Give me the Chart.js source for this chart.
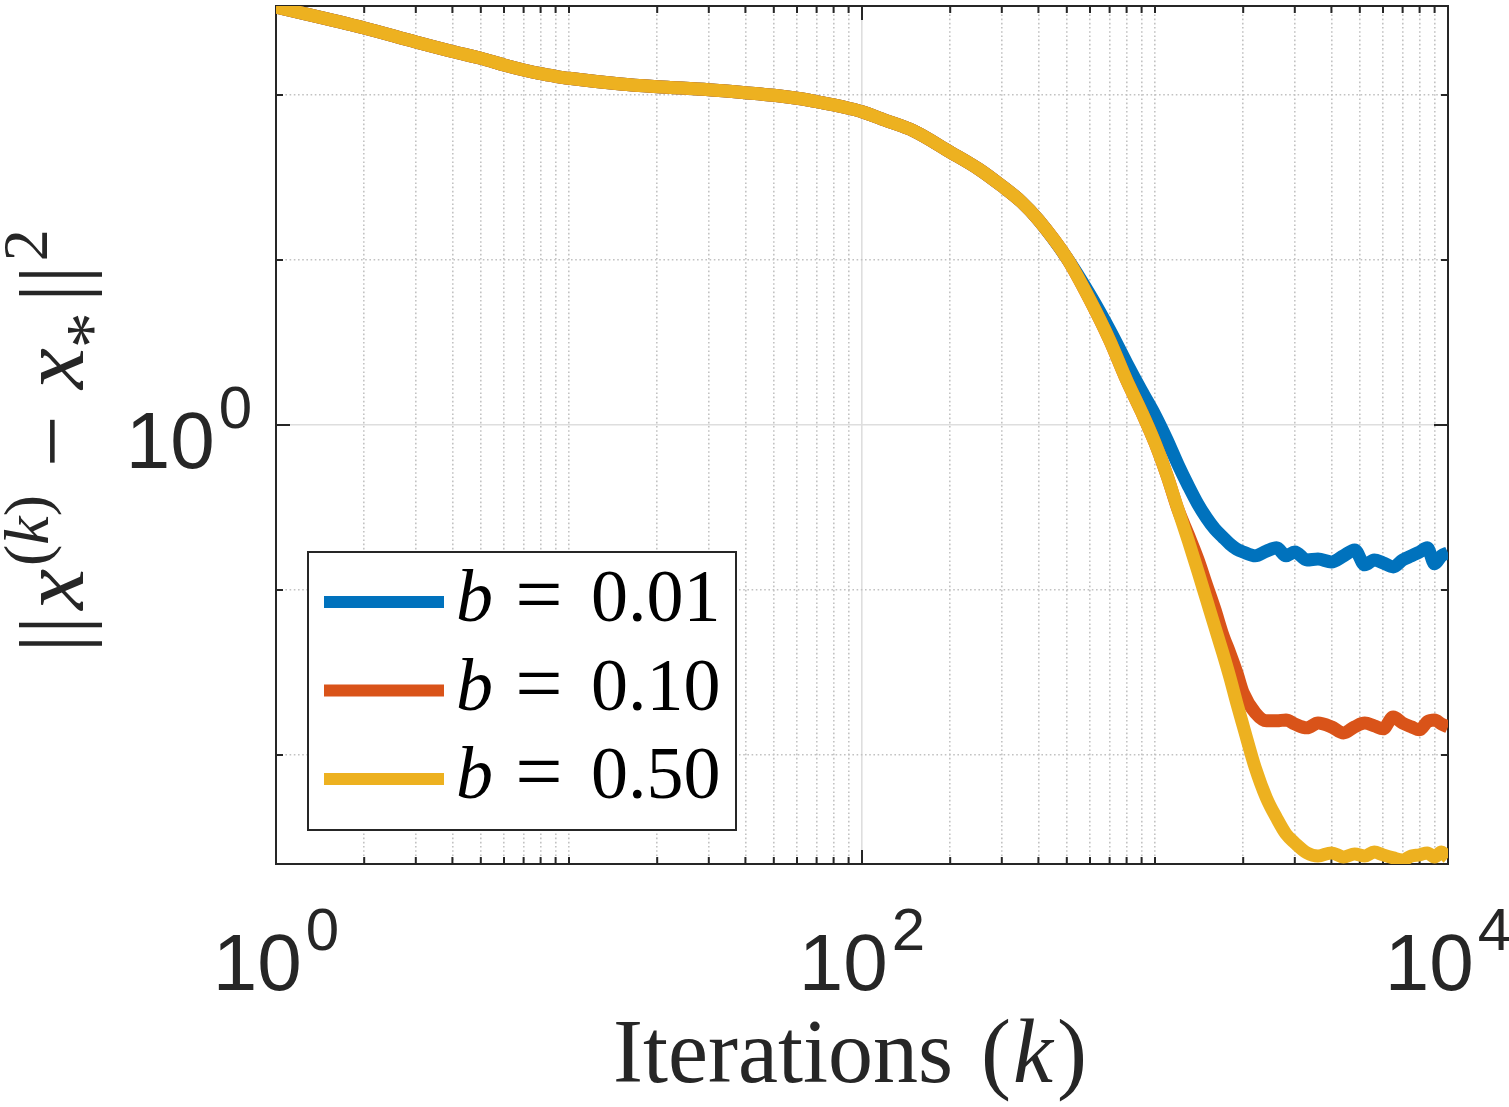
<!DOCTYPE html>
<html>
<head>
<meta charset="utf-8">
<script src="https://cdn.jsdelivr.net/npm/chart.js@4.4.1/dist/chart.umd.min.js"></script>
<style>
  html, body { margin: 0; padding: 0; background: #fff; }
</style>
</head>
<body>
<canvas id="myChart" width="1509" height="1107"></canvas>
<script>
// iterations k (x) and ||x^(k) - x*||^2 for each b
const iterations = [1, 2, 3, 4, 5, 6, 7, 8, 9, 10, 15, 20, 30, 40, 50, 60, 70, 80, 90,
  100, 120, 150, 200, 250, 300, 350, 400, 500, 600, 700, 800, 900,
  1000, 1100, 1200, 1300, 1400, 1500, 1600, 1700, 1800, 1900, 2000,
  2200, 2400, 2600, 2800, 3000, 3300, 3600, 4000, 4400, 4800, 5200, 5600, 6000,
  6500, 7000, 7500, 8000, 8500, 9000, 9500, 10000];

const errB001 = [341.5, 254.7, 209.5, 183.5, 166.9, 152.0, 141.8, 134.6, 129.8, 126.2, 116.6, 112.3, 107.7, 103.3, 99.6, 95.5, 91.1, 87.0, 83.1,
  79.2, 70.3, 60.6, 45.1, 35.6, 28.1, 22.5, 17.5, 10.28, 6.14, 3.77, 2.376, 1.608,
  1.150, 0.811, 0.572, 0.427, 0.332, 0.273, 0.234, 0.210, 0.190, 0.177, 0.170,
  0.161, 0.172, 0.180, 0.161, 0.170, 0.152, 0.154, 0.148, 0.161, 0.175, 0.142, 0.152, 0.146,
  0.138, 0.152, 0.161, 0.170, 0.180, 0.144, 0.161, 0.168];

const errB010 = [341.5, 254.7, 209.5, 183.5, 166.9, 152.0, 141.8, 134.6, 129.8, 126.2, 116.6, 112.3, 107.7, 103.3, 99.6, 95.5, 91.1, 87.0, 83.1,
  79.2, 70.3, 60.6, 45.1, 35.6, 28.1, 22.5, 17.5, 10.28, 5.72, 3.27, 1.87, 1.20,
  0.778, 0.491, 0.305, 0.2154, 0.1541, 0.1072, 0.0767, 0.0541, 0.0415, 0.0318, 0.0238,
  0.0180, 0.0161, 0.0161, 0.0163, 0.0154, 0.0146, 0.0156, 0.0148, 0.0136, 0.0148, 0.0156, 0.0150, 0.0144,
  0.0170, 0.0156, 0.0148, 0.0142, 0.0159, 0.0163, 0.0154, 0.0148];

const errB050 = [341.5, 254.7, 209.5, 183.5, 166.9, 152.0, 141.8, 134.6, 129.8, 126.2, 116.6, 112.3, 107.7, 103.3, 99.6, 95.5, 91.1, 87.0, 83.1,
  79.2, 70.3, 60.6, 45.1, 35.6, 28.1, 22.5, 17.5, 10.28, 5.72, 3.27, 1.87, 1.20,
  0.778, 0.491, 0.305, 0.198, 0.130, 0.0870, 0.0597, 0.0421, 0.0297, 0.0207, 0.0150,
  0.00834, 0.00549, 0.00415, 0.00332, 0.00293, 0.00255, 0.00244, 0.00255, 0.00241, 0.00251, 0.00244, 0.00258, 0.00248,
  0.00238, 0.00231, 0.00244, 0.00248, 0.00255, 0.00241, 0.00258, 0.00238];

const bValues = ['0.01', '0.10', '0.50'];
const lineColors = ['#0072BD', '#D95319', '#EDB120'];

// axis ticks (log decades and minor steps)
const xTicks = [1, 2, 3, 4, 5, 6, 7, 8, 9, 10, 20, 30, 40, 50, 60, 70, 80, 90,
  100, 200, 300, 400, 500, 600, 700, 800, 900,
  1000, 2000, 3000, 4000, 5000, 6000, 7000, 8000, 9000, 10000];
const xMajorTicks = [1, 100, 10000];
const xTickExponents = ['0', '2', '4'];
const yTicks = [0.01, 0.1, 1, 10, 100];
const yMajorTicks = [1];
const yTickExponents = ['0'];

const axisColor = '#262626';
const sans = '"Liberation Sans", Arial, Helvetica, sans-serif';
const serif = '"Liberation Serif", "Times New Roman", serif';

// draws a run of text pieces, each with its own font and vertical shift
function drawPieces(ctx, pieces, x, y, align) {
  let total = 0;
  pieces.forEach(p => {
    ctx.font = p.font;
    p.w = ctx.measureText(p.t).width;
    total += p.w + (p.gap || 0);
  });
  let cx = x;
  if (align === 'center') cx = x - total / 2;
  if (align === 'right') cx = x - total;
  ctx.textAlign = 'left';
  ctx.textBaseline = 'alphabetic';
  pieces.forEach(p => {
    ctx.font = p.font;
    cx += (p.gap || 0);
    ctx.fillText(p.t, cx, y - (p.rise || 0));
    cx += p.w;
  });
}

const matlabAxes = {
  id: 'matlabAxes',
  beforeDatasetsDraw(chart) {
    const {ctx, chartArea: a, scales} = chart;
    ctx.save();
    ctx.strokeStyle = axisColor;
    ctx.lineWidth = 2;
    ctx.strokeRect(a.left, a.top, a.right - a.left, a.bottom - a.top);
    ctx.beginPath();
    xTicks.forEach(v => {
      const px = scales.x.getPixelForValue(v);
      const len = xMajorTicks.includes(v) ? 14 : 7;
      ctx.moveTo(px, a.bottom); ctx.lineTo(px, a.bottom - len);
      ctx.moveTo(px, a.top); ctx.lineTo(px, a.top + len);
    });
    yTicks.forEach(v => {
      const py = scales.y.getPixelForValue(v);
      const len = yMajorTicks.includes(v) ? 14 : 7;
      ctx.moveTo(a.left, py); ctx.lineTo(a.left + len, py);
      ctx.moveTo(a.right, py); ctx.lineTo(a.right - len, py);
    });
    ctx.stroke();
    ctx.restore();
  },
  afterDraw(chart) {
    const {ctx, chartArea: a, scales} = chart;
    ctx.save();
    ctx.fillStyle = axisColor;

    // tick labels 10^n
    xMajorTicks.forEach((v, i) => {
      const px = scales.x.getPixelForValue(v);
      drawPieces(ctx, [
        {t: '10', font: '80px ' + sans},
        {t: xTickExponents[i], font: '60px ' + sans, rise: 40, gap: 4}
      ], px, a.bottom + 126, 'center');
    });
    yMajorTicks.forEach((v, i) => {
      const py = scales.y.getPixelForValue(v);
      drawPieces(ctx, [
        {t: '10', font: '80px ' + sans},
        {t: yTickExponents[i], font: '60px ' + sans, rise: 40, gap: 4}
      ], a.left - 24, py + 43, 'right');
    });

    // x title
    drawPieces(ctx, [
      {t: 'Iterations', font: '90px ' + serif},
      {t: '(', font: '90px ' + serif, gap: 28},
      {t: 'k', font: 'italic 90px ' + serif, gap: 2},
      {t: ')', font: '90px ' + serif, gap: 4}
    ], (a.left + a.right) / 2 - 12, 1082, 'center');

    // y title, rotated
    ctx.save();
    ctx.translate(83, (a.top + a.bottom) / 2 + 6);
    ctx.rotate(-Math.PI / 2);
    drawPieces(ctx, [
      {t: '||', font: '92px ' + serif},
      {t: 'x', font: 'italic 92px ' + serif, gap: 6},
      {t: '(', font: '64px ' + serif, rise: 35, gap: 3},
      {t: 'k', font: 'italic 64px ' + serif, rise: 35},
      {t: ')', font: '64px ' + serif, rise: 35},
      {t: '\u2212', font: '92px ' + serif, gap: 28},
      {t: 'x', font: 'italic 92px ' + serif, gap: 26},
      {t: '*', font: '72px ' + serif, rise: -32},
      {t: '||', font: '92px ' + serif, gap: 10},
      {t: '2', font: '64px ' + serif, rise: 36, gap: 4}
    ], 0, 0, 'center');
    ctx.restore();

    // legend box
    const lx = 308, ly = 552, lw = 428, lh = 278;
    ctx.fillStyle = '#fff';
    ctx.fillRect(lx, ly, lw, lh);
    ctx.strokeStyle = axisColor;
    ctx.lineWidth = 2;
    ctx.strokeRect(lx, ly, lw, lh);
    chart.data.datasets.forEach((ds, i) => {
      const ry = 602 + i * 88.5;
      ctx.strokeStyle = ds.borderColor;
      ctx.lineWidth = 12;
      ctx.lineCap = 'butt';
      ctx.beginPath();
      ctx.moveTo(324, ry);
      ctx.lineTo(444, ry);
      ctx.stroke();
      ctx.fillStyle = '#000';
      drawPieces(ctx, [{t: 'b', font: 'italic 74px ' + serif}], 456, ry + 19, 'left');
      drawPieces(ctx, [{t: '=', font: '84px ' + serif}], 539, ry + 21, 'center');
      drawPieces(ctx, [{t: bValues[i], font: '74px ' + serif}], 591, ry + 19, 'left');
    });
    ctx.restore();
  }
};

function points(ys) {
  return iterations.map((k, i) => ({x: k, y: ys[i]}));
}

const seriesData = [errB001, errB010, errB050];
const ctx = document.getElementById('myChart').getContext('2d');
new Chart(ctx, {
  type: 'line',
  data: {
    datasets: seriesData.map((ys, i) => ({
      label: 'b = ' + bValues[i],
      data: points(ys),
      borderColor: lineColors[i],
      backgroundColor: lineColors[i],
      borderWidth: 13,
      borderJoinStyle: 'round',
      borderCapStyle: 'butt',
      pointRadius: 0,
      cubicInterpolationMode: 'monotone',
      order: 2 - i // yellow on top, like the original
    }))
  },
  options: {
    responsive: false,
    animation: false,
    layout: { padding: { left: 276, right: 61, top: 6, bottom: 243 } },
    plugins: { legend: { display: false }, tooltip: { enabled: false } },
    scales: {
      x: {
        type: 'logarithmic',
        min: 1,
        max: 10000,
        afterBuildTicks: scale => { scale.ticks = xTicks.map(v => ({value: v})); },
        ticks: { display: false },
        grid: {
          drawTicks: false,
          lineWidth: 1.6,
          color: c => (c.tick && xMajorTicks.includes(c.tick.value)) ? '#dedede' : '#c2c2c2'
        },
        border: {
          display: true, color: axisColor, width: 2,
          dash: c => (c.tick && !xMajorTicks.includes(c.tick.value)) ? [1.6, 2.6] : []
        }
      },
      y: {
        type: 'logarithmic',
        min: 0.002184,
        max: 346.2,
        afterBuildTicks: scale => { scale.ticks = yTicks.map(v => ({value: v})); },
        ticks: { display: false },
        grid: {
          drawTicks: false,
          lineWidth: 1.6,
          color: c => (c.tick && yMajorTicks.includes(c.tick.value)) ? '#dedede' : '#c2c2c2'
        },
        border: {
          display: true, color: axisColor, width: 2,
          dash: c => (c.tick && !yMajorTicks.includes(c.tick.value)) ? [1.6, 2.6] : []
        }
      }
    }
  },
  plugins: [matlabAxes]
});
</script>
</body>
</html>
